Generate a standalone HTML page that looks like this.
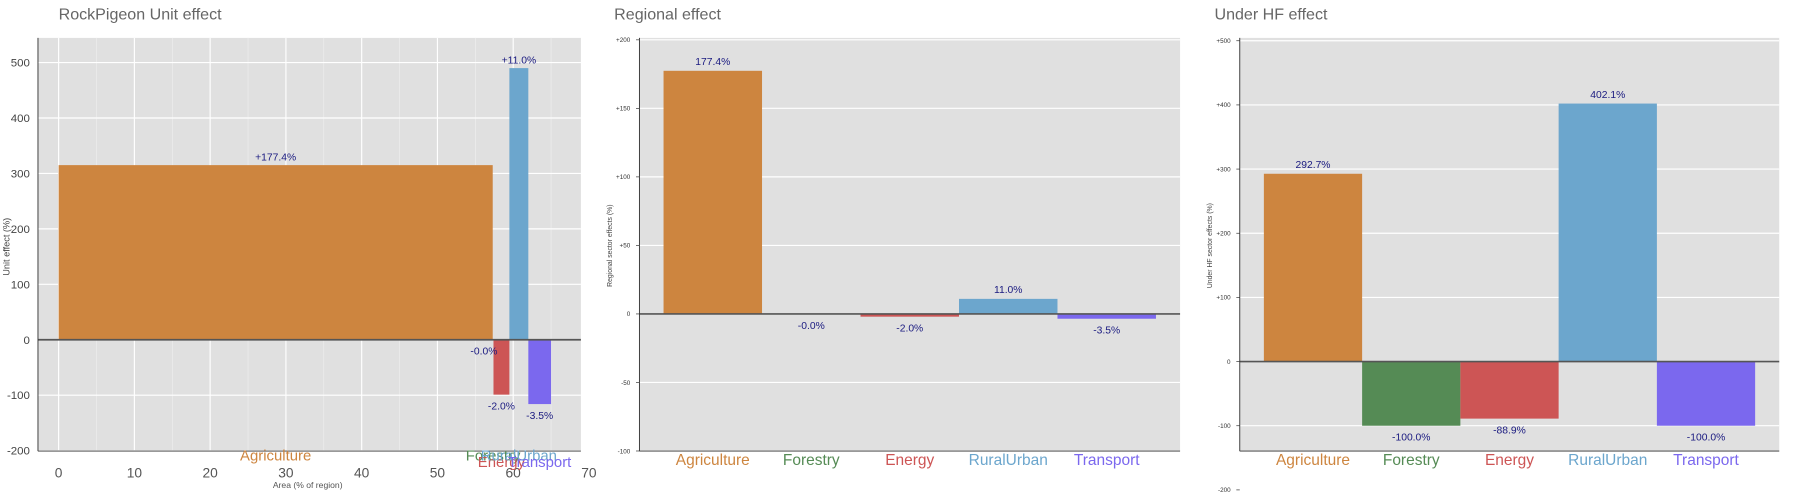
<!DOCTYPE html>
<html><head><meta charset="utf-8"><style>
html,body{margin:0;padding:0;background:#fff;}
svg{display:block;font-family:"Liberation Sans",Arial,sans-serif;}
</style></head><body>
<svg id="chart" width="1800" height="500" viewBox="0 0 1568 435.6" xmlns="http://www.w3.org/2000/svg"></svg>
<script>
const categories = ["Agriculture","Forestry","Energy","RuralUrban","Transport"];
const colors = ["#cd853f","#558b55","#cd5555","#6ca6cd","#7b68ee"];
// Panel 1: variable-width bars (area % of region) with unit effect
const p1AreaStart = [0, 57.3, 57.4, 59.5, 62.0];
const p1AreaEnd   = [57.3, 57.4, 59.5, 62.0, 65.0];
const p1Values    = [315, 0, -99, 490, -116];
const p1Labels    = ["+177.4%","-0.0%","-2.0%","+11.0%","-3.5%"];
const p1YTicks    = [500,400,300,200,100,0,-100,-200];
const p1XTicks    = [0,10,20,30,40,50,60,70];
// Panel 2
const p2Values = [177.4, -0.05, -2.0, 11.0, -3.5];
const p2Labels = ["177.4%","-0.0%","-2.0%","11.0%","-3.5%"];
const p2YTicks = [200,150,100,50,0,-50,-100];
// Panel 3
const p3Values = [292.7, -100, -88.9, 402.1, -100];
const p3Labels = ["292.7%","-100.0%","-88.9%","402.1%","-100.0%"];
const p3YTicks = [500,400,300,200,100,0,-100,-200];

const NS="http://www.w3.org/2000/svg";
const svg=document.getElementById('chart');
function el(tag,attrs,parent,text){const e=document.createElementNS(NS,tag);for(const k in attrs)e.setAttribute(k,attrs[k]);if(text!==undefined)e.textContent=text;(parent||svg).appendChild(e);return e;}

function frame(g,x0,x1,y0,y1){
  const bg=el('rect',{x:x0,y:y0,width:x1-x0,height:y1-y0,fill:'#e0e0e0'},g);
  
  
}
function axes(g,x0,x1,y0,y1){
  const a=el('line',{x1:x0,y1:y0,x2:x0,y2:y1,stroke:'#333','stroke-width':0.8},g);
  
  
  const b=el('line',{x1:x0,y1:y1,x2:x1,y2:y1,stroke:'#333','stroke-width':0.8},g);
  
  
}
function title(g,x,t){
  const e=el('text',{x:x,y:17,'font-size':14,fill:'#666'},g,t);
  
  
}
function ylabel(g,x,y,t,fs){
  const e=el('text',{x:x,y:y,'font-size':fs,fill:'#444','text-anchor':'middle',transform:`rotate(-90 ${x} ${y})`},g,t);
  
  
}

// ---------- Panel 1 ----------
(function(){
  const g=el('g',{});
  
  
  const X0=33,X1=506,Y0=33,Y1=393;
  const xs=v=>51+v*6.6;
  const ys=v=>296-v*0.483;
  frame(g,X0,X1,Y0,Y1);
  p1XTicks.forEach(t=>{
    if(xs(t)<X1){
      const l=el('line',{x1:xs(t),y1:Y0,x2:xs(t),y2:Y1,stroke:'#fff','stroke-width':1},g);
      
      
      const m=el('line',{x1:xs(t+5),y1:Y0,x2:xs(t+5),y2:Y1,stroke:'#f0f0f0','stroke-width':0.5},g);
      
      
    }
    const tl=el('text',{x:xs(t),y:416,'font-size':12,fill:'#555','text-anchor':'middle'},g,String(t));
    
    
  });
  p1YTicks.forEach(t=>{
    const l=el('line',{x1:X0,y1:ys(t),x2:X1,y2:ys(t),stroke:'#fff','stroke-width':1},g);
    
    
    const tl=el('text',{x:26,y:ys(t)+3.5,'font-size':10,fill:'#444','text-anchor':'end'},g,String(t));
    
    
  });
  categories.forEach((c,i)=>{
    const v=p1Values[i];
    const xa=xs(p1AreaStart[i]),xb=xs(p1AreaEnd[i]);
    const r=el('rect',{x:xa,y:Math.min(ys(v),ys(0)),width:Math.max(xb-xa,0.3),height:Math.abs(ys(v)-ys(0)),fill:colors[i]},g);
    
    
  });
  const z=el('line',{x1:X0,y1:ys(0),x2:X1,y2:ys(0),stroke:'#555','stroke-width':1.5},g);
  
  
  axes(g,X0,X1,Y0,Y1);
  const lblOff=[[0,-4],[-8,13],[0,13],[-3,-4],[0,13]];
  categories.forEach((c,i)=>{
    const v=p1Values[i];
    const cx=(xs(p1AreaStart[i])+xs(p1AreaEnd[i]))/2;
    const y=v>=0?ys(v)-4:ys(v)+13;
    const t=el('text',{x:cx+(i===1?-8:0),y:i===1?ys(0)+13:y,'font-size':9,fill:'#1a1a80','text-anchor':'middle'},g,p1Labels[i]);
    
    
    const row=(i===2||i===4)?407:401;
    const ct=el('text',{x:cx,y:row,'font-size':13,fill:colors[i],'text-anchor':'middle'},g,c);
    
    
  });
  const xl=el('text',{x:268,y:425,'font-size':7.5,fill:'#555','text-anchor':'middle'},g,'Area (% of region)');
  
  
  ylabel(g,8,215,'Unit effect (%)',8);
  title(g,51,'RockPigeon Unit effect');
})();

// ---------- Panels 2 & 3 ----------
function barPanel(name,X0,X1,Y0,Y1,zeroY,perUnit,values,labels,ticks,ttl,yl){
  const g=el('g',{});
  
  
  const ys=v=>zeroY-v*perUnit;
  const bandStart=X0+21,bw=(X1-X0-42)/categories.length;
  frame(g,X0,X1,Y0,Y1);
  ticks.forEach(t=>{
    const y=ys(t);
    if(y>=Y0-2&&y<=Y1){
      const l=el('line',{x1:X0,y1:y,x2:X1,y2:y,stroke:'#fff','stroke-width':1},g);
      
      
    }
    const tk=el('line',{x1:X0-3,y1:y,x2:X0,y2:y,stroke:'#333','stroke-width':0.6},g);
    
    
    const tl=el('text',{x:X0-8,y:y+2,'font-size':5.5,fill:'#333','text-anchor':'end'},g,(t>0?'+':'')+t);
    
    
  });
  categories.forEach((c,i)=>{
    const v=values[i];
    const x=bandStart+i*bw;
    const r=el('rect',{x:x,y:Math.min(ys(v),ys(0)),width:bw,height:Math.max(Math.abs(ys(v)-ys(0)),0.5),fill:colors[i]},g);
    
    
  });
  const z=el('line',{x1:X0,y1:ys(0),x2:X1,y2:ys(0),stroke:'#555','stroke-width':1.5},g);
  
  
  axes(g,X0,X1,Y0,Y1);
  categories.forEach((c,i)=>{
    const v=values[i];
    const cx=bandStart+(i+0.5)*bw;
    const y=v>=0?ys(v)-5:ys(v)+13;
    const t=el('text',{x:cx,y:y,'font-size':9,fill:'#1a1a80','text-anchor':'middle'},g,labels[i]);
    
    
    const ct=el('text',{x:cx,y:405,'font-size':13.5,fill:colors[i],'text-anchor':'middle'},g,c);
    
    
  });
  ylabel(g,X0-24,214,yl,6);
  title(g,X0-22,ttl);
}
barPanel('regional-effect-panel',557,1028,33,393,273.5,59.7/50,p2Values,p2Labels,p2YTicks,'Regional effect','Regional sector effects (%)');
barPanel('under-hf-effect-panel',1080,1550,33,393,315,0.559,p3Values,p3Labels,p3YTicks,'Under HF effect','Under HF sector effects (%)');
</script>
</body></html>
